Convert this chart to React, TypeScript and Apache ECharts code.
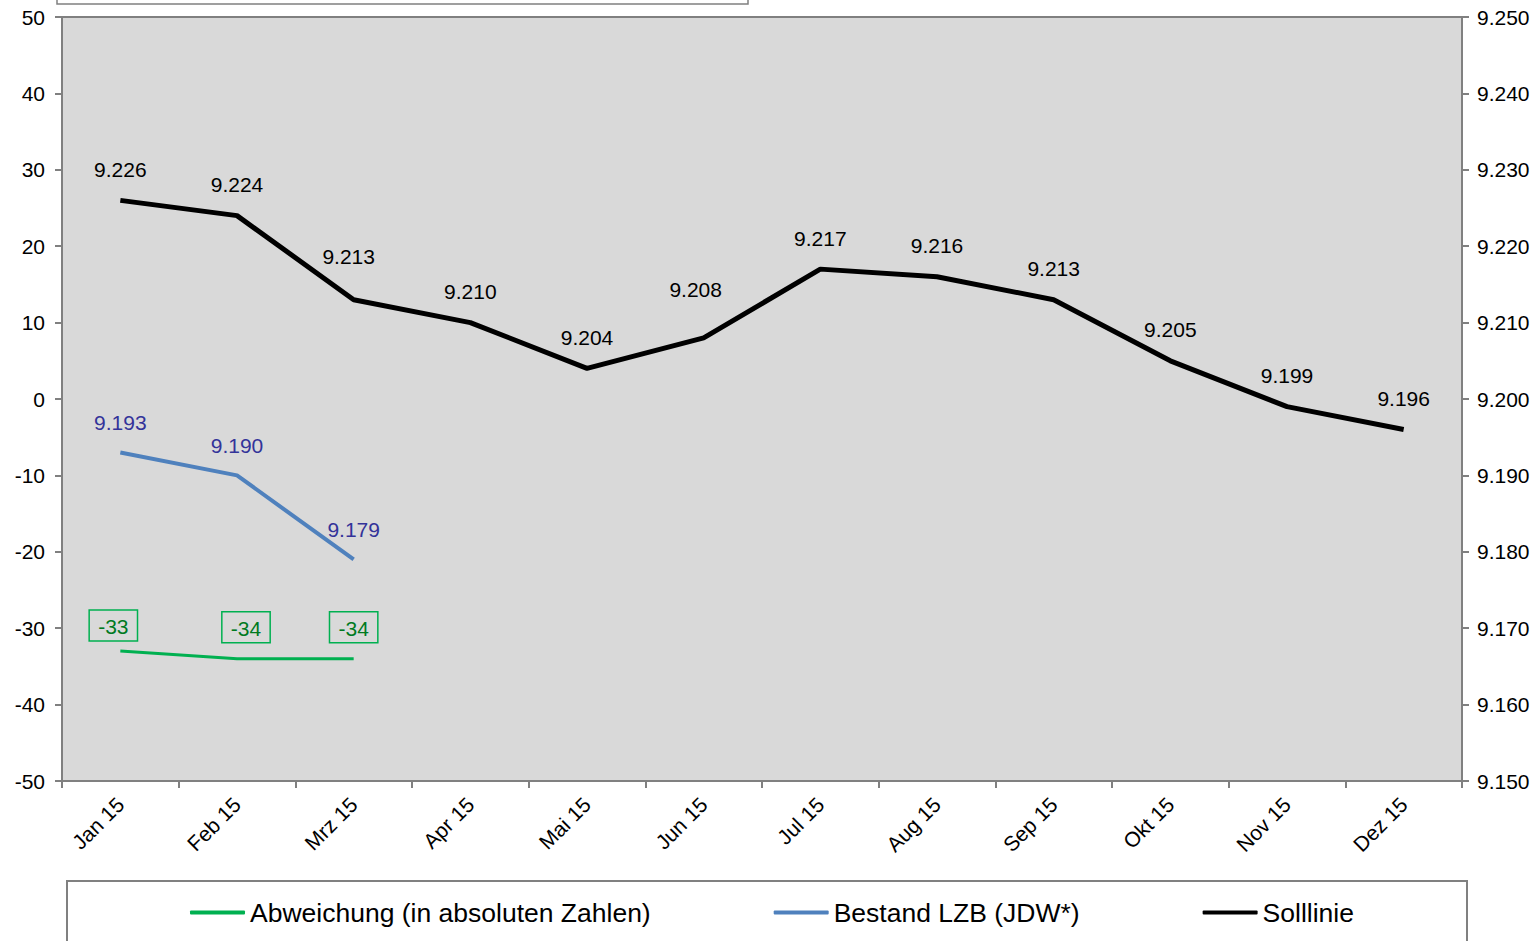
import React, { useEffect, useRef } from "react";
import * as echarts from "echarts";

const categories = ["Jan 15", "Feb 15", "Mrz 15", "Apr 15", "Mai 15", "Jun 15", "Jul 15", "Aug 15", "Sep 15", "Okt 15", "Nov 15", "Dez 15"];
const abweichung = [-33, -34, -34];
const bestand = [9193, 9190, 9179];
const solllinie = [9226, 9224, 9213, 9210, 9204, 9208, 9217, 9216, 9213, 9205, 9199, 9196];
const seriesNames = ["Abweichung (in absoluten Zahlen)", "Bestand LZB (JDW*)", "Solllinie"];
const seriesColors = ["#00b050", "#4f81bd", "#000000"];

// label nudges (px) mimicking the original label placement
const abweichungLabelShift = [[-7, 0], [9, -6], [0, -6]];
const sollLabelShift = [[0, 0], [0, 0], [-5, -12], [0, 0], [0, 0], [-8, -17], [0, 0], [0, 0], [0, 0], [0, 0], [0, 0], [0, 0]];

const FONT = "Liberation Sans, Arial, sans-serif";
const fmt = (v: number) => (v / 1000).toFixed(3);

export default function App() {
  const ref = useRef<HTMLDivElement>(null);
  useEffect(() => {
    if (!ref.current) return;
    const chart = echarts.init(ref.current, null, { renderer: "svg" });
    chart.setOption({
      animation: false,
      textStyle: { fontFamily: FONT },
      grid: {
        left: 62,
        right: 78,
        top: 17,
        bottom: 160,
        show: true,
        backgroundColor: "#d9d9d9",
        borderColor: "#808080",
        borderWidth: 2,
      },
      legend: {
        data: seriesNames.map((n, i) => ({ name: n, icon: "roundRect", itemStyle: { color: seriesColors[i] } })),
        left: 190,
        top: 899,
        padding: 0,
        itemWidth: 55,
        itemHeight: 4,
        itemGap: 123,
        textStyle: { fontSize: 26.5, color: "#000", fontFamily: FONT },
      },
      graphic: [
        {
          type: "rect",
          shape: { x: 57, y: -40, width: 691, height: 44 },
          style: { fill: "#fff", stroke: "#808080", lineWidth: 1.5 },
        },
        {
          type: "rect",
          shape: { x: 67, y: 881, width: 1400, height: 80 },
          style: { fill: "none", stroke: "#808080", lineWidth: 2 },
          z: -1,
        },
      ],
      xAxis: {
        type: "category",
        data: categories,
        boundaryGap: true,
        axisLine: { onZero: false, lineStyle: { color: "#808080", width: 2 } },
        axisTick: { show: true, length: 7, lineStyle: { color: "#808080", width: 2 } },
        axisLabel: { rotate: 45, fontSize: 21, color: "#000", margin: 20, fontFamily: FONT },
        splitLine: { show: false },
      },
      yAxis: [
        {
          type: "value",
          min: -50,
          max: 50,
          interval: 10,
          position: "left",
          axisLine: { show: true, lineStyle: { color: "#808080", width: 2 } },
          axisTick: { show: true, length: 7, lineStyle: { color: "#808080", width: 2 } },
          axisLabel: { fontSize: 21, color: "#000", margin: 17, fontFamily: FONT },
          splitLine: { show: false },
        },
        {
          type: "value",
          min: 9150,
          max: 9250,
          interval: 10,
          position: "right",
          axisLine: { show: true, lineStyle: { color: "#808080", width: 2 } },
          axisTick: { show: true, length: 7, lineStyle: { color: "#808080", width: 2 } },
          axisLabel: { fontSize: 21, color: "#000", margin: 15, fontFamily: FONT, formatter: fmt },
          splitLine: { show: false },
        },
      ],
      series: [
        {
          name: seriesNames[0],
          type: "line",
          yAxisIndex: 0,
          data: abweichung.map((v, i) => ({ value: v, label: { offset: abweichungLabelShift[i] } })),
          symbol: "circle",
          symbolSize: 0,
          showSymbol: true,
          lineStyle: { color: seriesColors[0], width: 3 },
          itemStyle: { color: seriesColors[0] },
          label: {
            show: true,
            position: "top",
            distance: 10,
            fontSize: 21,
            color: "#007a1f",
            fontFamily: FONT,
            borderColor: "#00b050",
            borderWidth: 1.5,
            padding: [6, 9, 4, 9],
          },
        },
        {
          name: seriesNames[1],
          type: "line",
          yAxisIndex: 1,
          data: bestand,
          symbol: "circle",
          symbolSize: 0,
          showSymbol: true,
          lineStyle: { color: seriesColors[1], width: 4 },
          itemStyle: { color: seriesColors[1] },
          label: {
            show: true,
            position: "top",
            distance: 19,
            fontSize: 21,
            color: "#333399",
            fontFamily: FONT,
            formatter: (p: any) => fmt(p.value),
          },
        },
        {
          name: seriesNames[2],
          type: "line",
          yAxisIndex: 1,
          data: solllinie.map((v, i) => ({ value: v, label: { offset: sollLabelShift[i] } })),
          symbol: "circle",
          symbolSize: 0,
          showSymbol: true,
          lineStyle: { color: seriesColors[2], width: 5 },
          itemStyle: { color: seriesColors[2] },
          label: {
            show: true,
            position: "top",
            distance: 20.5,
            fontSize: 21,
            color: "#000",
            fontFamily: FONT,
            formatter: (p: any) => fmt(p.value),
          },
        },
      ],
    });
    return () => chart.dispose();
  }, []);
  return <div ref={ref} style={{ width: 1540, height: 941, position: "absolute", left: 0, top: 0, background: "#fff" }} />;
}
